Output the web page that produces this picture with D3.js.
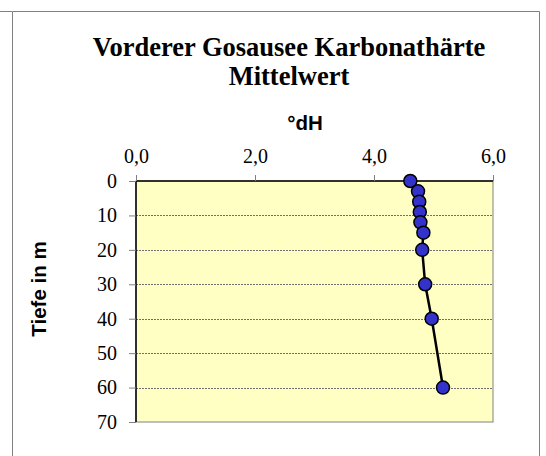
<!DOCTYPE html>
<html>
<head>
<meta charset="utf-8">
<title>Vorderer Gosausee Karbonathärte</title>
<style>
	body { margin: 0; background: #fff; }
	svg { display: block; }
</style>
</head>
<body>
<script src="https://cdnjs.cloudflare.com/ajax/libs/d3/7.8.5/d3.min.js"></script>
<script>
	// depth in m and mean carbonate hardness in °dH
	var depths = [0, 3, 6, 9, 12, 15, 20, 30, 40, 60];
	var hardness = [4.61, 4.74, 4.76, 4.77, 4.78, 4.83, 4.81, 4.86, 4.97, 5.16];
	var xTicks = [0, 2, 4, 6];
	var yTicks = [0, 10, 20, 30, 40, 50, 60, 70];
	var titleLines = ["Vorderer Gosausee Karbonathärte", "Mittelwert"];

	var width = 546, height = 456;
	var plot = {left: 136, top: 181, right: 493, bottom: 422};

	var svg = d3.select("body").append("svg")
		.attr("width", width)
		.attr("height", height);

	// outer chart frame
	svg.append("path")
		.attr("d", "M12.5,456V11.5H539.5V456 M0,11.5H12")
		.attr("fill", "none")
		.attr("stroke", "#808080")
		.attr("stroke-width", 1);

	var x = d3.scaleLinear().domain([0, 6]).range([plot.left, plot.right]);
	var y = d3.scaleLinear().domain([0, 70]).range([plot.top, plot.bottom]);

	// plot area
	svg.append("rect")
		.attr("x", plot.left)
		.attr("y", plot.top)
		.attr("width", plot.right - plot.left)
		.attr("height", plot.bottom - plot.top)
		.attr("fill", "#ffffc4")
		.attr("stroke", "#808080")
		.attr("stroke-width", 1);

	// grid lines
	svg.append("g").selectAll("line")
		.data(yTicks.slice(1, -1))
		.join("line")
		.attr("x1", plot.left)
		.attr("x2", plot.right)
		.attr("y1", function(d) { return Math.round(y(d)) + 0.5; })
		.attr("y2", function(d) { return Math.round(y(d)) + 0.5; })
		.attr("stroke", "#707070")
		.attr("stroke-width", 1)
		.attr("stroke-dasharray", "2,1");

	var fmt = function(d) { return d.toFixed(1).replace(".", ","); };

	var xAxis = svg.append("g")
		.attr("transform", "translate(0," + plot.top + ")")
		.call(d3.axisTop(x).tickValues(xTicks).tickFormat(fmt).tickSize(6).tickPadding(12));
	var yAxis = svg.append("g")
		.attr("transform", "translate(" + plot.left + ",0)")
		.call(d3.axisLeft(y).tickValues(yTicks).tickSize(7).tickPadding(12));

	[xAxis, yAxis].forEach(function(a) {
		a.selectAll("text")
			.attr("font-family", "'Liberation Serif', 'Times New Roman', serif")
			.attr("font-size", "20px")
			.attr("fill", "#000");
		a.selectAll(".tick line").attr("stroke", "#808080");
		a.select(".domain").attr("stroke", "#000").attr("stroke-width", 1.5);
	});
	xAxis.select(".domain").attr("d", "M" + plot.left + ",0H" + plot.right);
	yAxis.select(".domain").attr("d", "M0," + plot.top + "V" + plot.bottom);

	// line and markers
	var pts = depths.map(function(d, i) { return [hardness[i], d]; });
	svg.append("path")
		.datum(pts)
		.attr("fill", "none")
		.attr("stroke", "#000")
		.attr("stroke-width", 2.5)
		.attr("d", d3.line()
			.x(function(d) { return x(d[0]); })
			.y(function(d) { return y(d[1]); }));

	svg.append("g").selectAll("circle")
		.data(pts)
		.join("circle")
		.attr("cx", function(d) { return x(d[0]); })
		.attr("cy", function(d) { return y(d[1]); })
		.attr("r", 6.5)
		.attr("fill", "#3333cc")
		.attr("stroke", "#000")
		.attr("stroke-width", 1.5);

	// titles
	svg.append("text")
		.attr("font-family", "'Liberation Serif', 'Times New Roman', serif")
		.attr("font-weight", "bold")
		.attr("font-size", "26.5px")
		.attr("text-anchor", "middle")
		.selectAll("tspan")
		.data(titleLines)
		.join("tspan")
		.attr("x", 289)
		.attr("y", function(d, i) { return 56 + i * 29; })
		.text(function(d) { return d; });

	svg.append("text")
		.attr("x", 305)
		.attr("y", 130)
		.attr("font-family", "'Liberation Sans', Arial, sans-serif")
		.attr("font-weight", "bold")
		.attr("font-size", "20.5px")
		.attr("text-anchor", "middle")
		.text("°dH");

	svg.append("text")
		.attr("transform", "translate(46,289) rotate(-90)")
		.attr("font-family", "'Liberation Sans', Arial, sans-serif")
		.attr("font-weight", "bold")
		.attr("font-size", "20.5px")
		.attr("text-anchor", "middle")
		.text("Tiefe in m");
</script>
</body>
</html>
